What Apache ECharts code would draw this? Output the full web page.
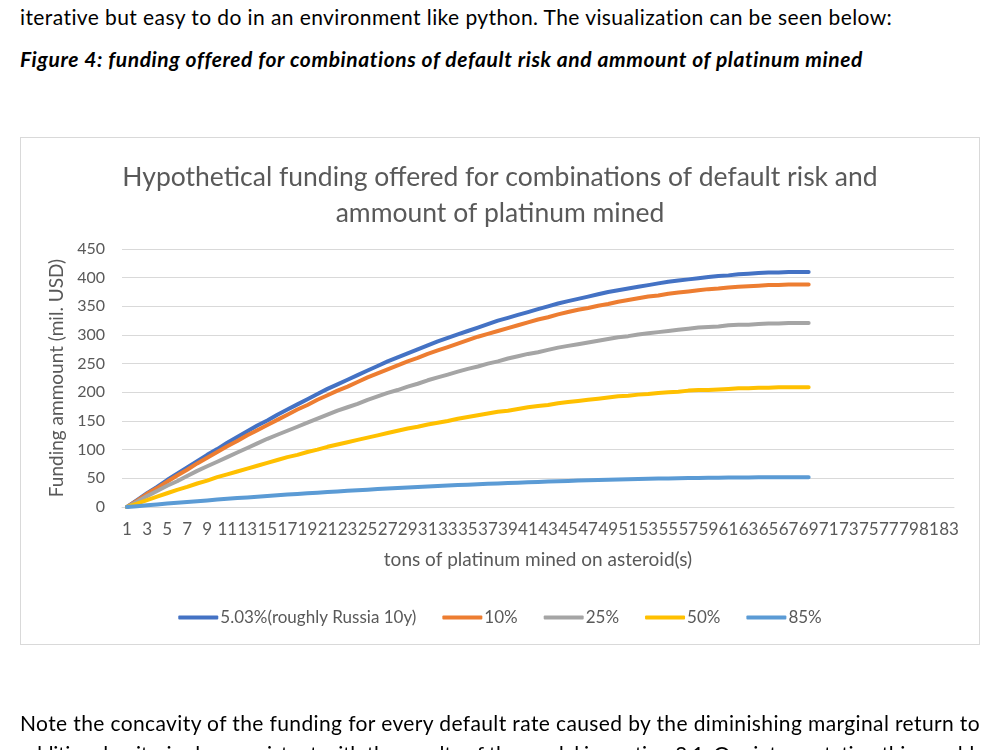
<!DOCTYPE html>
<html>
<head>
<meta charset="utf-8">
<script src="https://cdn.jsdelivr.net/npm/echarts@6/dist/echarts.min.js"></script>
<style>
  html, body { margin: 0; padding: 0; background: #fff; }
  #page { position: relative; width: 1000px; height: 750px; overflow: hidden; font-family: Lato, "Open Sans", sans-serif; color: #000; }
  .txt { position: absolute; left: 20px; white-space: nowrap; font-size: 21px; }
  #frame { position: absolute; left: 20px; top: 137px; width: 960px; height: 508px; border: 1px solid #d9d9d9; box-sizing: border-box; }
  #chart { position: absolute; left: 0; top: 0; width: 1000px; height: 750px; }
</style>
</head>
<body>
<div id="page">
  <div class="txt" data-w="873" style="top:4px;">iterative but easy to do in an environment like python. The visualization can be seen below:</div>
  <div class="txt" data-w="842" style="top:46px;font-weight:bold;font-style:italic;">Figure 4: funding offered for combinations of default risk and ammount of platinum mined</div>
  <div id="frame"></div>
  <div id="chart"></div>
  <div class="txt" data-w="960" style="top:710px;">Note the concavity of the funding for every default rate caused by the diminishing marginal return to</div>
  <div class="txt" data-w="955" style="top:741px;">additional units, is also consistent with the results of the model in section 3.1. Our interpretation this would</div>
</div>
<script>
// stretch the document lines to the widths they take in the page
var lines = document.querySelectorAll('.txt');
for (var n = 0; n < lines.length; n++) {
    var el = lines[n];
    var target = +el.getAttribute('data-w');
    var w = el.getBoundingClientRect().width;
    var chars = el.textContent.length;
    el.style.letterSpacing = ((target - w) / chars) + 'px';
}

var dom = document.getElementById("chart");
var myChart = echarts.init(dom);

// tons mined: 1..83 on the axis
var tons = [];
for (var t = 1; t <= 83; t++) {
    tons.push(String(t));
}

var names = ['5.03%(roughly Russia 10y)', '10%', '25%', '50%', '85%'];
var colors = ['#4472C4', '#ED7D31', '#A5A5A5', '#FFC000', '#5B9BD5'];

// funding (mil. USD), tons 1..69
var r5 = [0, 12, 24, 35, 47, 58, 69, 80, 91, 101, 112, 122, 132, 142, 151, 161, 170, 179, 188, 197,
    206, 214, 222, 230, 238, 246, 254, 261, 268, 275, 282, 289, 295, 301, 307, 313, 319, 325, 330, 335,
    340, 345, 350, 355, 359, 363, 367, 371, 375, 378, 381, 384, 387, 390, 393, 395, 397, 399, 401, 403,
    404, 406, 407, 408, 409, 409, 410, 410, 410];
var r10 = [0, 11, 23, 33, 44, 55, 65, 76, 86, 96, 106, 115, 125, 134, 143, 152, 161, 170, 178, 187,
    195, 203, 210, 218, 226, 233, 240, 247, 254, 260, 267, 273, 279, 285, 291, 297, 302, 307, 312, 317,
    322, 327, 331, 336, 340, 344, 347, 351, 354, 358, 361, 364, 367, 369, 372, 374, 376, 378, 380, 381,
    383, 384, 385, 386, 387, 387, 388, 388, 388];
var r25 = [0, 9, 19, 28, 37, 45, 54, 63, 71, 79, 87, 95, 103, 111, 119, 126, 133, 140, 147, 154,
    161, 168, 174, 180, 187, 193, 199, 204, 210, 215, 221, 226, 231, 236, 241, 245, 250, 254, 259, 263,
    267, 270, 274, 278, 281, 284, 287, 290, 293, 296, 298, 301, 303, 305, 307, 309, 311, 313, 314, 315,
    317, 318, 318, 319, 320, 320, 321, 321, 321];
var r50 = [0, 6, 12, 18, 24, 30, 35, 41, 46, 52, 57, 62, 67, 72, 77, 82, 87, 91, 96, 100,
    105, 109, 113, 117, 121, 125, 129, 133, 137, 140, 144, 147, 150, 154, 157, 160, 163, 166, 168, 171,
    174, 176, 178, 181, 183, 185, 187, 189, 191, 193, 194, 196, 197, 199, 200, 201, 203, 204, 204, 205,
    206, 207, 207, 208, 208, 209, 209, 209, 209];
var r85 = [0, 1.5, 3.0, 4.5, 5.9, 7.4, 8.8, 10.2, 11.5, 12.9, 14.2, 15.5, 16.7, 18.0, 19.2, 20.4, 21.6, 22.8, 23.9, 25.0,
    26.1, 27.2, 28.2, 29.2, 30.2, 31.2, 32.2, 33.1, 34.0, 34.9, 35.8, 36.6, 37.4, 38.2, 39.0, 39.8, 40.5, 41.2, 41.9, 42.5,
    43.2, 43.8, 44.4, 45.0, 45.5, 46.1, 46.6, 47.0, 47.5, 47.9, 48.4, 48.8, 49.1, 49.5, 49.8, 50.1, 50.4, 50.6, 50.9, 51.1,
    51.3, 51.4, 51.6, 51.7, 51.8, 51.9, 52.0, 52.0, 52.0];

var values = [r5, r10, r25, r50, r85];
var txtColor = '#595959';
var fontFam = 'Lato, "Open Sans", sans-serif';

var series = [];
for (var s = 0; s < names.length; s++) {
    series.push({
        name: names[s],
        type: 'line',
        symbol: 'none',
        smooth: false,
        data: values[s],
        itemStyle: { color: colors[s] },
        lineStyle: { color: colors[s], width: 4, cap: 'round', join: 'round' }
    });
}

var option = {
    animation: false,
    title: {
        text: 'Hypothetical funding offered for combinations of default risk and\nammount of platinum mined',
        left: 'center',
        top: 154,
        textStyle: {
            color: txtColor,
            fontFamily: fontFam,
            fontWeight: 'normal',
            fontSize: 26.5,
            lineHeight: 36
        }
    },
    grid: {
        left: 122,
        right: 46,
        top: 249,
        bottom: 243
    },
    legend: {
        data: names,
        top: 604,
        left: 'center',
        icon: 'roundRect',
        itemWidth: 40,
        itemHeight: 4,
        itemGap: 26,
        textStyle: { color: txtColor, fontFamily: fontFam, fontSize: 17, padding: [0, 0, 0, -3] }
    },
    xAxis: {
        type: 'category',
        data: tons,
        boundaryGap: true,
        name: 'tons of platinum mined on asteroid(s)',
        nameLocation: 'middle',
        nameGap: 43,
        nameTextStyle: { color: txtColor, fontFamily: fontFam, fontSize: 19 },
        axisLine: { lineStyle: { color: '#d9d9d9', width: 1 } },
        axisTick: { show: false },
        axisLabel: {
            interval: 1,
            margin: 14,
            color: txtColor,
            fontFamily: fontFam,
            fontSize: 17,
            hideOverlap: false
        }
    },
    yAxis: {
        type: 'value',
        min: 0,
        max: 450,
        interval: 50,
        name: 'Funding ammount (mil. USD)',
        nameLocation: 'middle',
        nameGap: 54,
        nameTextStyle: { color: txtColor, fontFamily: fontFam, fontSize: 19 },
        axisLine: { show: false },
        axisTick: { show: false },
        axisLabel: { margin: 17, color: txtColor, fontFamily: fontFam, fontSize: 16 },
        splitLine: { lineStyle: { color: '#d9d9d9', width: 1 } }
    },
    series: series
};

if (option && typeof option === 'object') {
    myChart.setOption(option);
}
</script>
</body>
</html>
